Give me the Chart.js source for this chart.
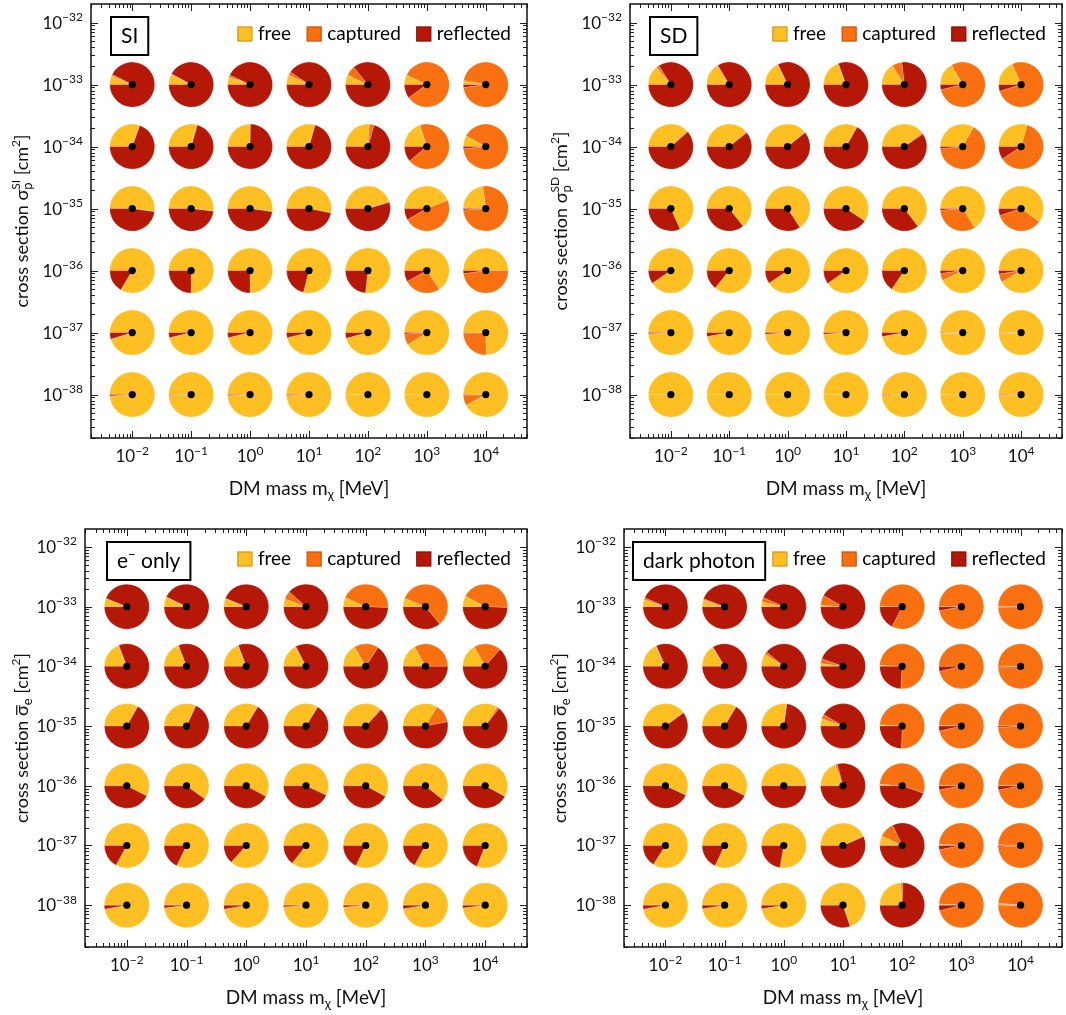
<!DOCTYPE html>
<html>
<head>
<meta charset="utf-8">
<script src="https://cdn.jsdelivr.net/npm/chart.js@4.4.0/dist/chart.umd.min.js"></script>
<style>
  html, body { margin: 0; padding: 0; background: #fff; }
  #page { position: relative; width: 1066px; height: 1015px; overflow: hidden; }
  .panel { position: absolute; width: 533px; }
</style>
</head>
<body>
<div id="page">
  <div class="panel" style="left:0;top:0;height:507px"><canvas id="c-si"></canvas></div>
  <div class="panel" style="left:533px;top:0;height:507px"><canvas id="c-sd"></canvas></div>
  <div class="panel" style="left:0;top:507px;height:508px"><canvas id="c-el"></canvas></div>
  <div class="panel" style="left:533px;top:507px;height:508px"><canvas id="c-dp"></canvas></div>
</div>
<script>
// grid of benchmark points (log10 of value)
const massExp = [-2, -1, 0, 1, 2, 3, 4];
const sigmaExp = [-33, -34, -35, -36, -37, -38];
const xTickExp = [-2, -1, 0, 1, 2, 3, 4];
const yTickExp = [-32, -33, -34, -35, -36, -37, -38];
const seriesNames = ['free', 'captured', 'reflected'];

// fractions per row (sigma 1e-33 .. 1e-38) and column (mass 1e-2 .. 1e4); reflected = 1 - free - captured
const freeSI = [
  [0.065, 0.075, 0.055, 0.07, 0.07, 0.07, 0.03],
  [0.30, 0.29, 0.25, 0.29, 0.26, 0.20, 0.08],
  [0.52, 0.517, 0.52, 0.53, 0.45, 0.44, 0.23],
  [0.835, 0.75, 0.75, 0.79, 0.767, 0.655, 0.50],
  [0.953, 0.964, 0.964, 0.964, 0.96, 0.91, 0.747],
  [0.99, 0.998, 0.994, 0.994, 1, 1, 0.922]
];
const capturedSI = [
  [0.01, 0.005, 0.015, 0.025, 0.07, 0.83, 0.95],
  [0.005, 0.005, 0.003, 0.005, 0.035, 0.69, 0.905],
  [0.002, 0.002, 0.002, 0.002, 0.005, 0.477, 0.76],
  [0, 0, 0, 0, 0, 0.265, 0.478],
  [0, 0, 0, 0, 0, 0.08, 0.25],
  [0, 0, 0, 0, 0, 0, 0.075]
];
const freeSD = [
  [0.14, 0.16, 0.175, 0.19, 0.16, 0.167, 0.185],
  [0.383, 0.39, 0.39, 0.33, 0.395, 0.33, 0.294],
  [0.683, 0.644, 0.658, 0.592, 0.647, 0.661, 0.60],
  [0.905, 0.858, 0.905, 0.903, 0.845, 0.928, 0.915],
  [0.992, 0.972, 0.988, 0.988, 0.972, 0.995, 0.997],
  [1, 1, 1, 1, 0.996, 1, 0.996]
];
const capturedSD = [
  [0.02, 0.005, 0.005, 0.005, 0.072, 0.797, 0.768],
  [0.003, 0.003, 0.003, 0.003, 0.01, 0.655, 0.614],
  [0, 0, 0, 0, 0, 0.328, 0.35],
  [0, 0, 0, 0, 0, 0.052, 0.06],
  [0, 0, 0, 0, 0, 0.003, 0.001],
  [0, 0, 0, 0, 0, 0, 0]
];
const freeEl = [
  [0.058, 0.07, 0.058, 0.055, 0.067, 0.06, 0.078],
  [0.19, 0.19, 0.19, 0.17, 0.167, 0.17, 0.17],
  [0.33, 0.317, 0.334, 0.336, 0.36, 0.336, 0.34],
  [0.575, 0.60, 0.58, 0.57, 0.577, 0.60, 0.577],
  [0.83, 0.822, 0.867, 0.855, 0.822, 0.83, 0.81],
  [0.972, 0.98, 0.972, 0.988, 0.985, 0.975, 0.98]
];
const capturedEl = [
  [0.002, 0.002, 0.002, 0.06, 0.44, 0.58, 0.428],
  [0.002, 0.002, 0.002, 0.005, 0.175, 0.33, 0.194],
  [0.002, 0.002, 0.002, 0.002, 0.01, 0.133, 0.015],
  [0, 0, 0, 0, 0.003, 0.01, 0.002],
  [0, 0, 0, 0, 0, 0, 0],
  [0, 0, 0, 0, 0, 0, 0]
];
const freeDP = [
  [0.05, 0.047, 0.033, 0.01, 0.003, 0.002, 0.002],
  [0.18, 0.16, 0.09, 0.02, 0.008, 0.002, 0.002],
  [0.397, 0.334, 0.27, 0.053, 0.01, 0.005, 0.002],
  [0.569, 0.574, 0.5, 0.194, 0.01, 0.005, 0.005],
  [0.84, 0.82, 0.778, 0.433, 0.07, 0.01, 0.005],
  [0.972, 0.975, 0.975, 0.697, 0.24, 0.01, 0.015]
];
const capturedDP = [
  [0.015, 0.01, 0.033, 0.073, 0.822, 0.968, 0.993],
  [0.003, 0.003, 0.02, 0.035, 0.752, 0.962, 0.993],
  [0.002, 0.002, 0.002, 0.033, 0.745, 0.959, 0.988],
  [0, 0, 0, 0.015, 0.543, 0.965, 0.965],
  [0, 0, 0, 0.002, 0.11, 0.96, 0.985],
  [0, 0, 0, 0.002, 0.015, 0.951, 0.98]
];

const COLORS = ['#FEBF22', '#F8700F', '#B51806'];
const EDGES = ['#D99A0E', '#CF5608', '#8A1003'];
const FONT = 'Lato, "Open Sans", sans-serif';
const PIE_R = 22.5;

function drawRich(ctx, parts, x, y, align) {
  let w = 0;
  parts.forEach(function(p) {
    ctx.font = p.size + 'px ' + FONT;
    p.w = ctx.measureText(p.t).width;
    if (!p.skip) w += p.w;
  });
  let cx = align === 'center' ? x - w / 2 : (align === 'right' ? x - w : x);
  ctx.textAlign = 'left';
  ctx.textBaseline = 'alphabetic';
  parts.forEach(function(p) {
    ctx.font = p.size + 'px ' + FONT;
    ctx.fillText(p.t, cx, y + (p.dy || 0));
    if (p.over) ctx.fillRect(cx + 1, y - p.size * 0.66, p.w - 1, 1.3);
    if (!p.skip) cx += p.w;
  });
  return w;
}

function expParts(e) {
  const s = e < 0 ? '\u2212' + Math.abs(e) : String(e);
  return [{ t: '10', size: 17 }, { t: s, size: 12, dy: -7.5 }];
}

function makePanel(canvasId, free, captured, opt) {
  const points = [];
  sigmaExp.forEach(function(se) {
    massExp.forEach(function(me) { points.push({ x: Math.pow(10, me), y: Math.pow(10, se) }); });
  });

  const decor = {
    id: 'decor',
    beforeDatasetsDraw(chart) {
      const ctx = chart.ctx, xs = chart.scales.x, ys = chart.scales.y;
      ctx.save();
      sigmaExp.forEach(function(se, i) {
        massExp.forEach(function(me, j) {
          const cx = xs.getPixelForValue(Math.pow(10, me));
          const cy = ys.getPixelForValue(Math.pow(10, se));
          const f = free[i][j], c = captured[i][j];
          const fr = [f, c, Math.max(0, 1 - f - c)];
          let a0 = Math.PI;
          fr.forEach(function(v, k) {
            if (v <= 0) return;
            const a1 = a0 + v * 2 * Math.PI;
            ctx.beginPath();
            ctx.moveTo(cx, cy);
            ctx.arc(cx, cy, PIE_R, a0, a1);
            ctx.closePath();
            ctx.fillStyle = COLORS[k];
            ctx.fill();
            ctx.strokeStyle = 'rgba(255,255,255,0.3)';
            ctx.lineWidth = 0.7;
            ctx.stroke();
            a0 = a1;
          });
        });
      });
      ctx.restore();
    },
    afterDraw(chart) {
      const ctx = chart.ctx, a = chart.chartArea, xs = chart.scales.x, ys = chart.scales.y;
      ctx.save();
      ctx.fillStyle = '#000';
      ctx.strokeStyle = '#222';
      // ticks on all four sides
      ctx.lineWidth = 1;
      ctx.beginPath();
      for (let n = -3; n <= 4; n++) {
        for (let k = 1; k <= 9; k++) {
          const v = k * Math.pow(10, n);
          if (v < xs.min || v > xs.max) continue;
          const px = Math.round(xs.getPixelForValue(v)) + 0.5;
          const len = k === 1 ? 7 : 4;
          ctx.moveTo(px, a.bottom); ctx.lineTo(px, a.bottom - len);
          ctx.moveTo(px, a.top); ctx.lineTo(px, a.top + len);
        }
      }
      for (let n = -39; n <= -32; n++) {
        for (let k = 1; k <= 9; k++) {
          const v = k * Math.pow(10, n);
          if (v < ys.min || v > ys.max) continue;
          const py = Math.round(ys.getPixelForValue(v)) + 0.5;
          const len = k === 1 ? 7 : 4;
          ctx.moveTo(a.left, py); ctx.lineTo(a.left + len, py);
          ctx.moveTo(a.right, py); ctx.lineTo(a.right - len, py);
        }
      }
      ctx.stroke();
      ctx.lineWidth = 1.5;
      ctx.strokeStyle = '#111';
      ctx.strokeRect(a.left, a.top, a.right - a.left, a.bottom - a.top);

      // tick labels
      ctx.fillStyle = '#111';
      xTickExp.forEach(function(e) {
        drawRich(ctx, expParts(e), xs.getPixelForValue(Math.pow(10, e)), a.bottom + 24, 'center');
      });
      yTickExp.forEach(function(e) {
        drawRich(ctx, expParts(e), a.left - 8, ys.getPixelForValue(Math.pow(10, e)) + 6, 'right');
      });

      // axis titles
      drawRich(ctx, [{ t: 'DM mass m', size: 19 }, { t: '\u03C7', size: 13, dy: 4 }, { t: ' [MeV]', size: 19 }],
        (a.left + a.right) / 2, a.bottom + 57, 'center');
      ctx.save();
      ctx.translate(opt.yTitleX, (a.top + a.bottom) / 2);
      ctx.rotate(-Math.PI / 2);
      drawRich(ctx, opt.yTitle, 0, 0, 'center');
      ctx.restore();

      // panel label box
      const bx = a.left + opt.boxDx, by = a.top + 13;
      const tw = drawRich(ctx, opt.label.map(function(p) { return Object.assign({}, p); }), -9999, -9999, 'left');
      ctx.fillStyle = '#fff';
      ctx.fillRect(bx, by, tw + 20, 38);
      ctx.lineWidth = 2;
      ctx.strokeStyle = '#000';
      ctx.strokeRect(bx, by, tw + 20, 38);
      ctx.fillStyle = '#000';
      drawRich(ctx, opt.label, bx + 10, by + 26, 'left');

      // legend
      ctx.font = '19px ' + FONT;
      const widths = seriesNames.map(function(s) { return ctx.measureText(s).width; });
      let lx = a.right - 16;
      const ly = a.top + 30;
      for (let k = 2; k >= 0; k--) {
        lx -= widths[k];
        ctx.fillStyle = '#000';
        ctx.textBaseline = 'middle';
        ctx.fillText(seriesNames[k], lx, ly);
        lx -= 20;
        ctx.fillStyle = COLORS[k];
        ctx.fillRect(lx, ly - 7, 14, 14);
        ctx.strokeStyle = EDGES[k];
        ctx.lineWidth = 1.3;
        ctx.strokeRect(lx, ly - 7, 14, 14);
        lx -= 16;
      }
      ctx.restore();
    }
  };

  return new Chart(document.getElementById(canvasId), {
    type: 'scatter',
    data: {
      datasets: [{
        data: points,
        pointRadius: 3.6,
        pointBackgroundColor: '#000',
        pointBorderWidth: 0
      }]
    },
    options: {
      responsive: true,
      maintainAspectRatio: false,
      animation: false,
      events: [],
      layout: { padding: opt.padding },
      plugins: { legend: { display: false }, tooltip: { enabled: false } },
      scales: {
        x: { type: 'logarithmic', display: false, min: Math.pow(10, -2.7), max: Math.pow(10, 4.7) },
        y: { type: 'logarithmic', display: false, min: Math.pow(10, -38.7), max: Math.pow(10, -31.7) }
      }
    },
    plugins: [decor]
  });
}

function yTitleP(tag) {
  return [{ t: 'cross section \u03C3', size: 18 }, { t: 'p', size: 13, dy: 4, skip: true },
    { t: tag, size: 12, dy: -8 }, { t: ' [cm', size: 18 }, { t: '2', size: 12, dy: -8 }, { t: ']', size: 18 }];
}
const yTitleE = [{ t: 'cross section ', size: 18 }, { t: '\u03C3', size: 18, over: true }, { t: 'e', size: 13, dy: 4 },
  { t: ' [cm', size: 18 }, { t: '2', size: 12, dy: -8 }, { t: ']', size: 18 }];

makePanel('c-si', freeSI, capturedSI, {
  padding: { left: 91, right: 6, top: 3, bottom: 69 }, yTitleX: 28, boxDx: 20,
  yTitle: yTitleP('SI'), label: [{ t: 'SI', size: 21 }]
});
makePanel('c-sd', freeSD, capturedSD, {
  padding: { left: 97, right: 1, top: 3, bottom: 69 }, yTitleX: 34, boxDx: 20,
  yTitle: yTitleP('SD'), label: [{ t: 'SD', size: 21 }]
});
makePanel('c-el', freeEl, capturedEl, {
  padding: { left: 85, right: 6, top: 22, bottom: 68 }, yTitleX: 28, boxDx: 22,
  yTitle: yTitleE, label: [{ t: 'e', size: 21 }, { t: '\u2212', size: 13, dy: -9 }, { t: ' only', size: 21 }]
});
makePanel('c-dp', freeDP, capturedDP, {
  padding: { left: 91, right: 1, top: 22, bottom: 68 }, yTitleX: 33, boxDx: 9,
  yTitle: yTitleE, label: [{ t: 'dark photon', size: 21 }]
});
</script>
</body>
</html>
